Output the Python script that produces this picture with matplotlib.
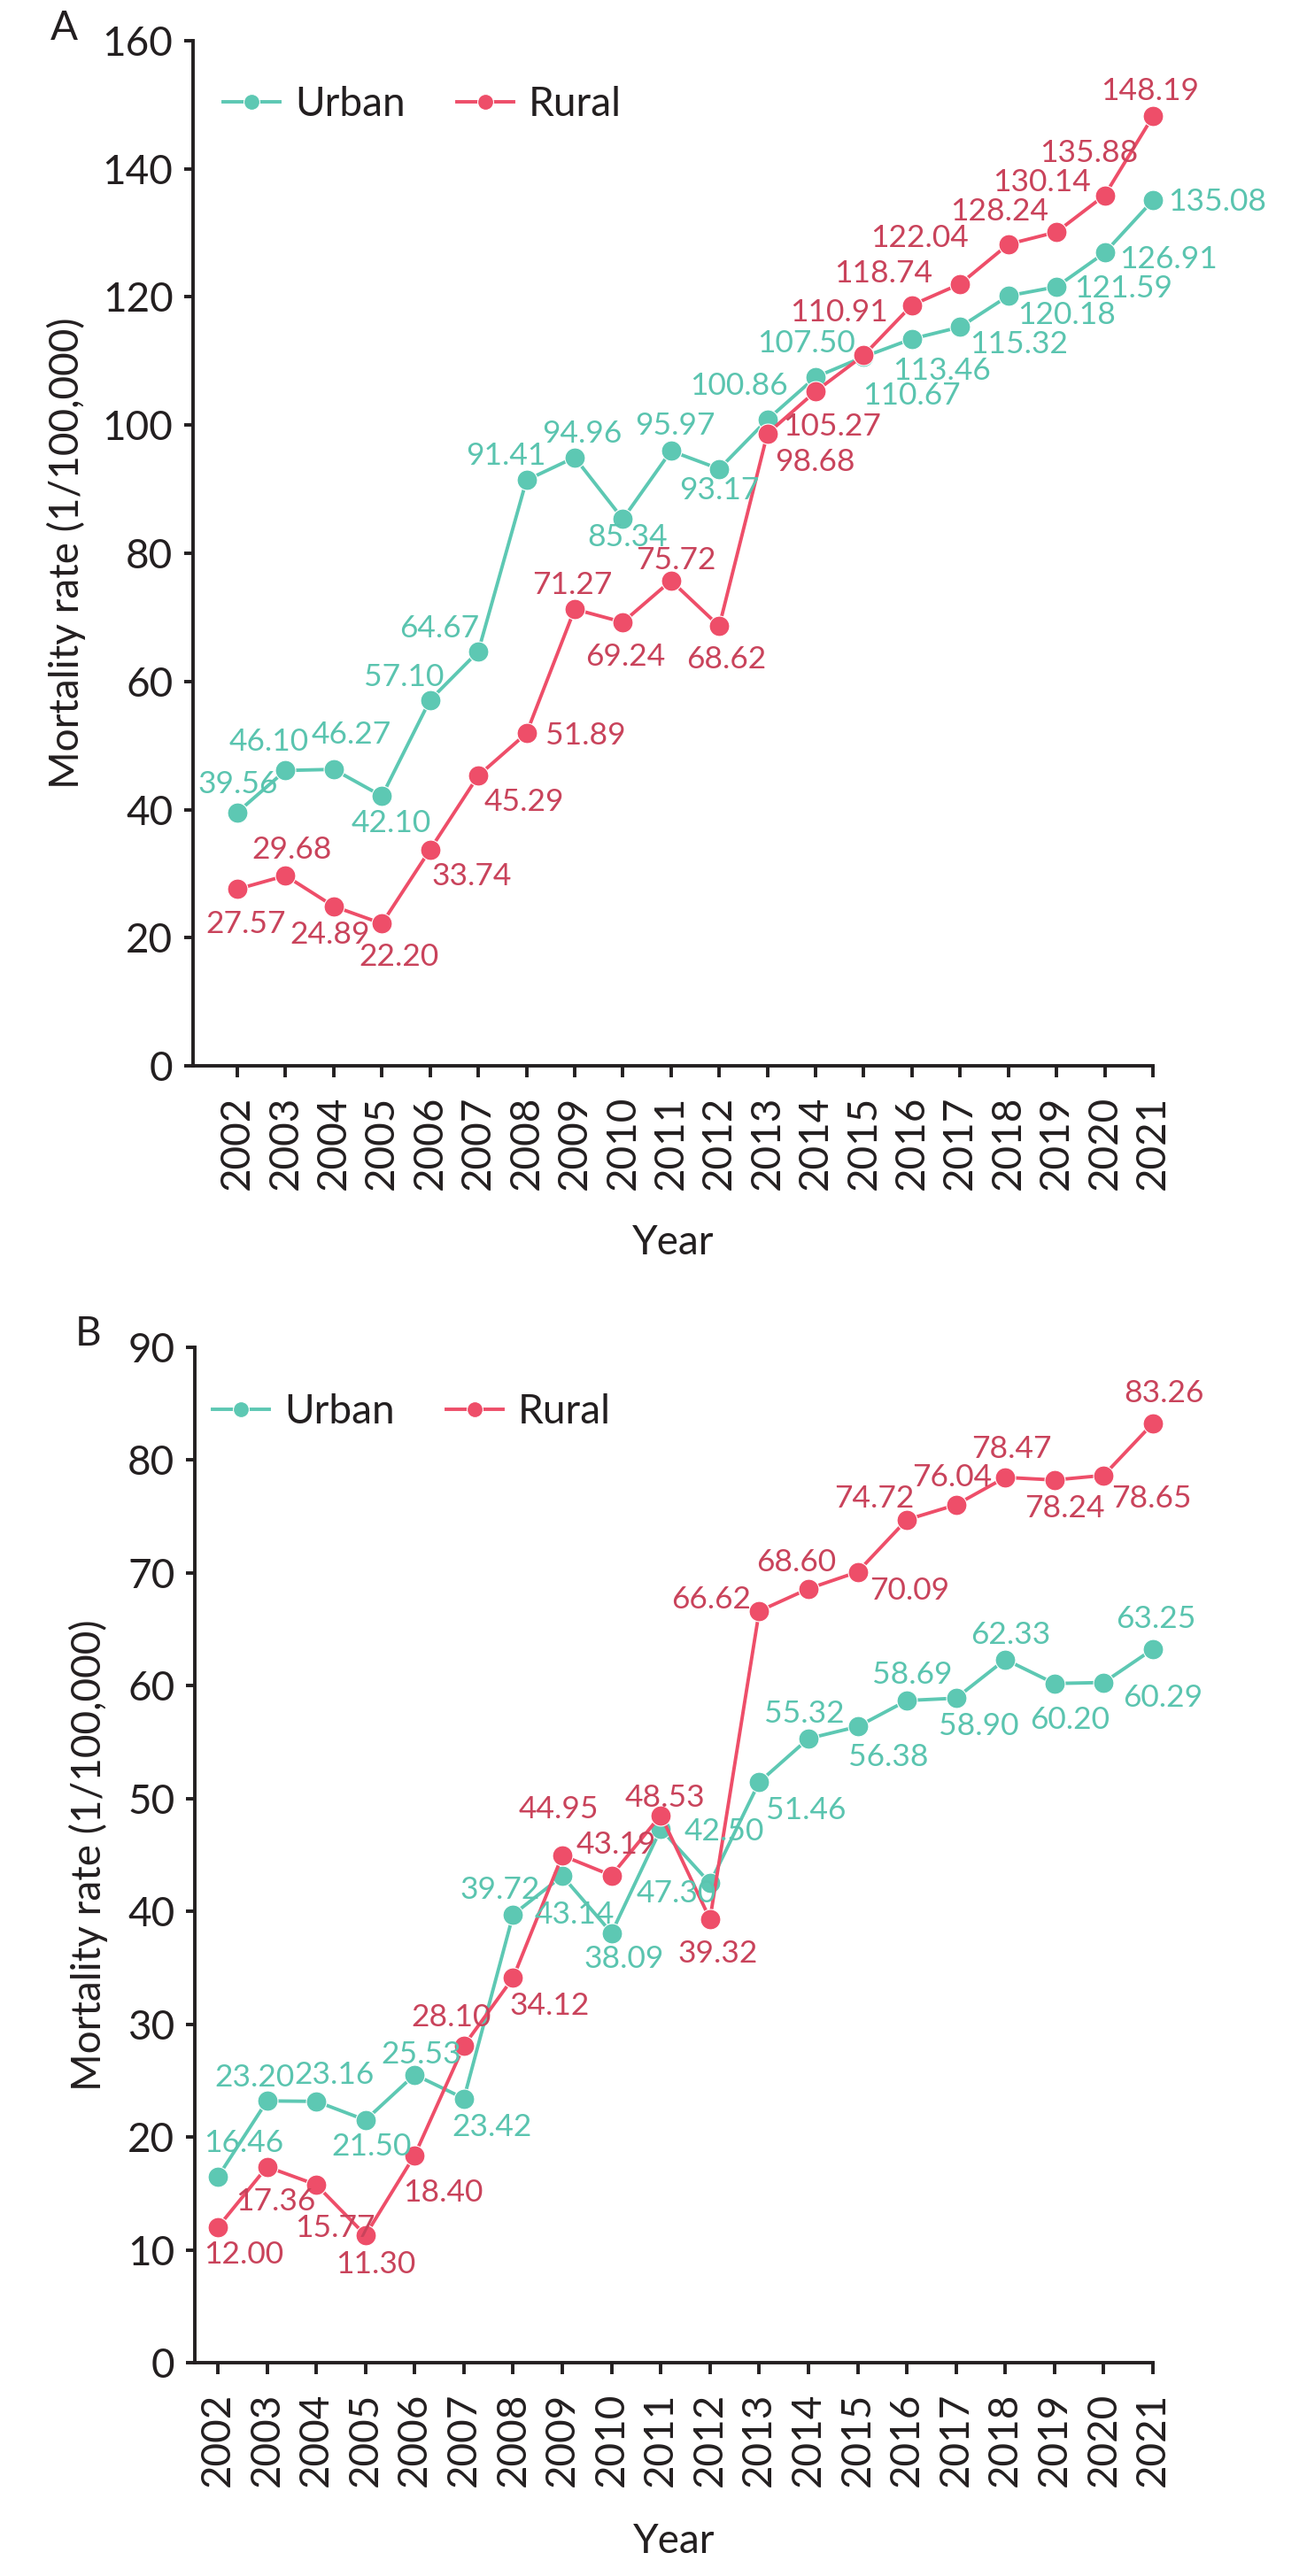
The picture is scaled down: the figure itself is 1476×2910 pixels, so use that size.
import matplotlib
matplotlib.use("Agg")
import matplotlib.pyplot as plt

plt.rcParams['font.family'] = ['Lato', 'DejaVu Sans']

# ---------------- data ----------------
years = list(range(2002, 2022))

urban_a = [39.56, 46.10, 46.27, 42.10, 57.10, 64.67, 91.41, 94.96, 85.34, 95.97,
           93.17, 100.86, 107.50, 110.67, 113.46, 115.32, 120.18, 121.59, 126.91, 135.08]
rural_a = [27.57, 29.68, 24.89, 22.20, 33.74, 45.29, 51.89, 71.27, 69.24, 75.72,
           68.62, 98.68, 105.27, 110.91, 118.74, 122.04, 128.24, 130.14, 135.88, 148.19]

urban_b = [16.46, 23.20, 23.16, 21.50, 25.53, 23.42, 39.72, 43.14, 38.09, 47.30,
           42.50, 51.46, 55.32, 56.38, 58.69, 58.90, 62.33, 60.20, 60.29, 63.25]
rural_b = [12.00, 17.36, 15.77, 11.30, 18.40, 28.10, 34.12, 44.95, 43.19, 48.53,
           39.32, 66.62, 68.60, 70.09, 74.72, 76.04, 78.47, 78.24, 78.65, 83.26]

series_names = ["Urban", "Rural"]
yticks_a = [0, 20, 40, 60, 80, 100, 120, 140, 160]
yticks_b = [0, 10, 20, 30, 40, 50, 60, 70, 80, 90]

# ---------------- label offsets (pixels, dy positive = downwards) ----------------
off_urban_a = [(1, -34), (-19, -35), (20, -42), (10, 28), (-30, -28), (-44, -28), (-23, -30),
               (8, -29), (5, 18), (5, -31), (0, 22), (-32, -41), (-11, -40), (54, 41),
               (34, 34), (66, 17), (66, 19), (75, 0), (72, 5), (73, -1)]
off_rural_a = [(10, 37), (7, -32), (-4, 30), (19, 35), (47, 28), (52, 27), (67, 0),
               (-3, -30), (3, 37), (6, -25), (8, 35), (54, 30), (19, 37), (-28, -51),
               (-32, -38), (-46, -54), (-10, -39), (-17, -59), (-18, -50), (-3, -31)]
off_urban_b = [(29, -41), (-14, -29), (20, -32), (7, 28), (7, -25), (32, 30), (-15, -30),
               (14, 41), (14, 27), (18, 70), (16, -61), (53, 29), (-5, -30), (35, 32),
               (6, -32), (26, 29), (6, -30), (17, 39), (67, 15), (3, -36)]
off_rural_b = [(29, 28), (10, 37), (21, 46), (12, 31), (32, 40), (-14, -34), (41, 29),
               (-4, -55), (5, -37), (5, -22), (9, 37), (-54, -15), (-14, -32), (59, 19),
               (-37, -26), (-4, -33), (7, -34), (12, 30), (54, 24), (12, -36)]

# ---------------- style ----------------
C_URBAN = '#5DC8B3'
C_URBAN_TXT = '#5AC4AF'
C_RURAL = '#EE4E69'
C_RURAL_TXT = '#C9435B'
C_AX = '#231F20'

W, H = 1476, 2910
fig = plt.figure(figsize=(W / 100, H / 100), dpi=100)


def px_axes(left, top, right, bottom):
    return [left / W, 1 - bottom / H, (right - left) / W, (bottom - top) / H]


axA = fig.add_axes(px_axes(218, 46, 1302, 1204))
axB = fig.add_axes(px_axes(220, 1522, 1302, 2669))

LABEL_FS = 25.5
CAP_HALF = 12.5


def draw(ax, urban, rural, off_u, off_r, yticks, xleft, ylab_x, xlab_y, leg_xy):
    lu, = ax.plot(years, urban, color=C_URBAN, lw=2.8, marker='o', ms=16.5,
                  mfc=C_URBAN, mec='white', mew=0.8, clip_on=False, zorder=3,
                  label=series_names[0])
    lr, = ax.plot(years, rural, color=C_RURAL, lw=2.8, marker='o', ms=16.5,
                  mfc=C_RURAL, mec='white', mew=0.8, clip_on=False, zorder=4,
                  label=series_names[1])
    for yr, v, (dx, dy) in zip(years, urban, off_u):
        ax.annotate(f"{v:.2f}", (yr, v), xytext=(dx, -dy - CAP_HALF),
                    textcoords='offset pixels', ha='center', va='baseline',
                    fontsize=LABEL_FS, color=C_URBAN_TXT, zorder=5)
    for yr, v, (dx, dy) in zip(years, rural, off_r):
        ax.annotate(f"{v:.2f}", (yr, v), xytext=(dx, -dy - CAP_HALF),
                    textcoords='offset pixels', ha='center', va='baseline',
                    fontsize=LABEL_FS, color=C_RURAL_TXT, zorder=5)

    ax.set_xlim(xleft, 2021)
    ax.set_ylim(yticks[0], yticks[-1])
    ax.set_yticks(yticks)
    ax.set_xticks(years)
    ax.set_xticklabels([str(y) for y in years], rotation=90)
    for s in ['top', 'right']:
        ax.spines[s].set_visible(False)
    for s in ['left', 'bottom']:
        ax.spines[s].set_linewidth(2.8)
        ax.spines[s].set_color(C_AX)
    ax.tick_params(axis='y', length=7.2, width=2.8, pad=9, labelsize=33,
                   colors=C_AX)
    ax.tick_params(axis='x', length=9.4, width=2.8, pad=15, labelsize=33,
                   colors=C_AX)
    ax.set_ylabel("Mortality rate (1/100,000)", fontsize=33, color=C_AX)
    ax.yaxis.set_label_coords(ylab_x, 0.5)
    ax.set_xlabel("Year", fontsize=33, color=C_AX)
    ax.xaxis.set_label_coords(0.5, xlab_y)
    ax.xaxis.label.set_va('baseline')

    ax.legend(handles=[lu, lr], loc='center left', bbox_to_anchor=leg_xy,
              ncol=2, frameon=False, fontsize=33, handlelength=1.4,
              handletextpad=0.38, columnspacing=1.25, borderpad=0,
              borderaxespad=0, markerscale=0.78, labelcolor=C_AX)


draw(axA, urban_a, rural_a, off_urban_a, off_rural_a, yticks_a, 2001.081,
     (97 - 218) / 1084, -0.1839, ((252 - 218) / 1084, (1204 - 118) / 1158))
draw(axB, urban_b, rural_b, off_urban_b, off_rural_b, yticks_b, 2001.532,
     (122 - 220) / 1082, -0.1874, ((240 - 220) / 1082, (2669 - 1595) / 1147))

fig.text(57 / W, 1 - 45 / H, "A", fontsize=33, color=C_AX, ha='left', va='baseline')
fig.text(85 / W, 1 - 1520 / H, "B", fontsize=33, color=C_AX, ha='left', va='baseline')

fig.savefig("out.png", dpi=100)
